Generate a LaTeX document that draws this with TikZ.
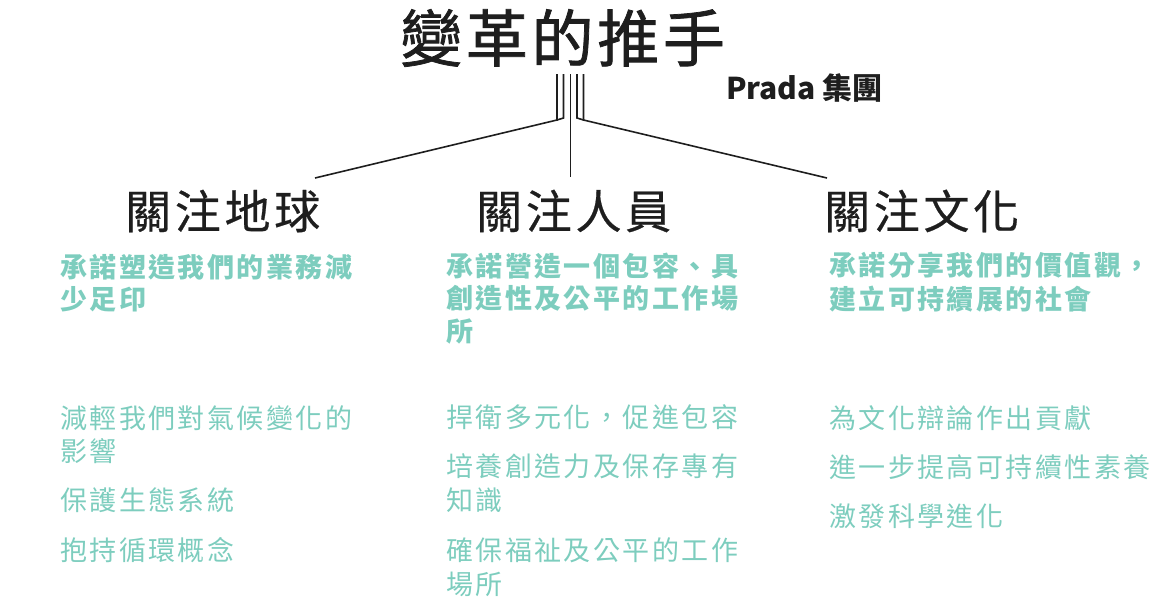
\documentclass[tikz,border=0pt]{standalone}
\usepackage{fontspec}
\newfontfamily\cjk{Noto Sans CJK TC}
\definecolor{teal1}{RGB}{125,205,190}
\definecolor{ink}{RGB}{30,30,30}
\tikzset{
  titletext/.style={inner sep=0, anchor=west, text=ink, font=\cjk\fontsize{62}{64}\selectfont\addfontfeature{LetterSpace=6,FakeBold=1.2}},
  pradatext/.style={inner sep=0, anchor=west, text=ink, font=\cjk\bfseries\fontsize{30}{32}\selectfont},
  headtext/.style={inner sep=0, anchor=west, text=ink, font=\cjk\fontsize{46}{48}\selectfont\addfontfeature{LetterSpace=8,FakeBold=0.5}},
  pledge/.style={inner sep=0, anchor=west, text=teal1, font=\cjk\bfseries\fontsize{27}{29}\selectfont\addfontfeature{LetterSpace=9}},
  item/.style={inner sep=0, anchor=west, text=teal1, font=\cjk\fontsize{27}{29}\selectfont\addfontfeature{LetterSpace=9}},
  conn/.style={draw=ink, line width=1.6pt},
}
\begin{document}
\begin{tikzpicture}[x=1pt,y=-1pt]
\useasboundingbox (0,0) rectangle (1154,600);
% title
\node[titletext] (title) at (400,38) {變革的推手};
\node[pradatext] (prada) at (726,88) {Prada 集團};
% headings
\node[headtext] (h1) at (125,211) {關注地球};
\node[headtext] (h2) at (476,211) {關注人員};
\node[headtext] (h3) at (824,211) {關注文化};
% connectors
\coordinate (la) at (557,74);
\coordinate (lb) at (563.5,74);
\coordinate (cc) at (570.5,74);
\coordinate (ra) at (577,74);
\coordinate (rb) at (583.5,74);
\coordinate (lend) at (315,178);
\coordinate (cend) at (570.5,177);
\coordinate (rend) at (827,178);
\draw[conn] (la) -- (557,120) -- (lend);
\draw[conn] (lb) -- (563.5,118) -- (557,120);
\draw[conn] (cc) -- (cend);
\draw[conn] (rb) -- (583.5,120) -- (rend);
\draw[conn] (ra) -- (577,118) -- (583.5,120);
% pledges
\node[pledge] (p1a) at (60,267) {承諾塑造我們的業務減};
\node[pledge] (p1b) at (60,299) {少足印};
\node[pledge] (p2a) at (446,266) {承諾營造一個包容、具};
\node[pledge] (p2b) at (446,298) {創造性及公平的工作場};
\node[pledge] (p2c) at (446,332) {所};
\node[pledge] (p3a) at (829,265) {承諾分享我們的價值觀，};
\node[pledge] (p3b) at (829,299) {建立可持續展的社會};
% items
\node[item] (i1a) at (60,418) {減輕我們對氣候變化的};
\node[item] (i1b) at (60,451) {影響};
\node[item] (i1c) at (60,500) {保護生態系統};
\node[item] (i1d) at (60,550) {抱持循環概念};
\node[item] (i2a) at (446,417) {捍衛多元化，促進包容};
\node[item] (i2b) at (446,466) {培養創造力及保存專有};
\node[item] (i2c) at (446,500) {知識};
\node[item] (i2d) at (446,550) {確保福祉及公平的工作};
\node[item] (i2e) at (446,584) {場所};
\node[item] (i3a) at (829,418) {為文化辯論作出貢獻};
\node[item] (i3b) at (829,467) {進一步提高可持續性素養};
\node[item] (i3c) at (829,516) {激發科學進化};
\end{tikzpicture}
\end{document}
